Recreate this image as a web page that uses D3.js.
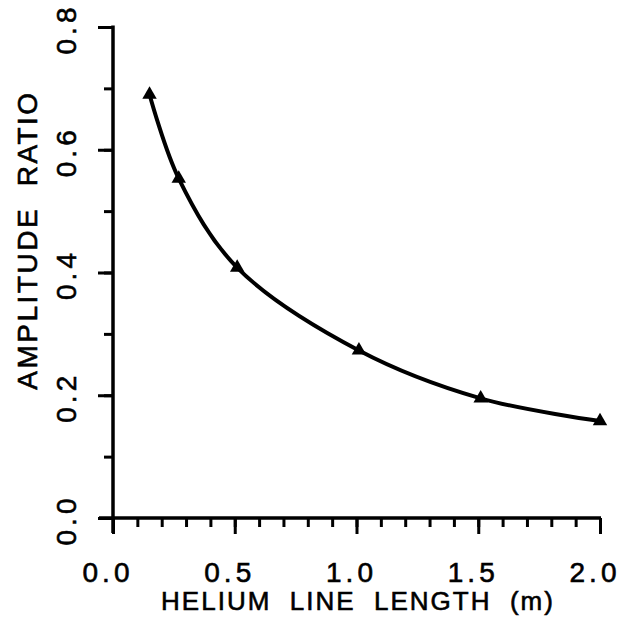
<!DOCTYPE html>
<html>
<head>
<meta charset="utf-8">
<script src="https://cdn.jsdelivr.net/npm/d3@7"></script>
<style>
  html, body { margin: 0; padding: 0; background: #fff; }
  svg { display: block; }
  text { font-family: "Liberation Sans", Arial, sans-serif; fill: #000; stroke: #000; stroke-width: 0.6; white-space: pre; }
</style>
</head>
<body>
<svg id="chart" width="619" height="632"></svg>
<script>
// Data
const lengths = [0.15, 0.27, 0.51, 1.01, 1.51, 2.0];
const ratios  = [0.69, 0.553, 0.408, 0.273, 0.195, 0.158];
const xTickLabels = ["0.0", "0.5", "1.0", "1.5", "2.0"];
const yTickLabels = ["0.0", "0.2", "0.4", "0.6", "0.8"];
const xTitle = "HELIUM  LINE  LENGTH  (m)";
const yTitle = "AMPLITUDE  RATIO";

const svg = d3.select("#chart");
const x = d3.scaleLinear().domain([0, 2]).range([113, 600]);
const y = d3.scaleLinear().domain([0, 0.8]).range([518, 27]);

const xMinor = d3.range(0, 21).map(i => i / 10);
const xMajor = xTickLabels.map(Number);
const yMinor = d3.range(0, 9).map(i => i / 10);
const yMajor = yTickLabels.map(Number);

const axisStyle = g => {
  g.select(".domain").remove();
  g.selectAll("line").attr("stroke", "#000").attr("stroke-width", 3);
  g.selectAll("text").remove();
};

// X axis minor & major ticks
svg.append("g").attr("transform", `translate(0,${y(0)})`)
  .call(d3.axisBottom(x).tickValues(xMinor).tickSize(9)).call(axisStyle);
svg.append("g").attr("transform", `translate(0,${y(0)})`)
  .call(d3.axisBottom(x).tickValues(xMajor).tickSize(16)).call(axisStyle);
// Y axis minor & major ticks
svg.append("g").attr("transform", `translate(${x(0)},0)`)
  .call(d3.axisLeft(y).tickValues(yMinor).tickSize(9)).call(axisStyle);
svg.append("g").attr("transform", `translate(${x(0)},0)`)
  .call(d3.axisLeft(y).tickValues(yMajor).tickSize(15)).call(axisStyle);

// axis lines
svg.append("line").attr("x1", x(0) - 14).attr("x2", x(2) + 1)
  .attr("y1", y(0)).attr("y2", y(0)).attr("stroke", "#000").attr("stroke-width", 3.5);
svg.append("line").attr("x1", x(0)).attr("x2", x(0))
  .attr("y1", y(0) + 15).attr("y2", y(0.8) - 1.5).attr("stroke", "#000").attr("stroke-width", 3.5);

// X tick labels
svg.append("g").selectAll("text").data(xTickLabels).join("text")
  .attr("x", d => x(+d) - 5)
  .attr("y", 582)
  .attr("text-anchor", "middle")
  .attr("font-size", 28)
  .attr("letter-spacing", 4)
  .text(d => d);

// Y tick labels (rotated)
svg.append("g").selectAll("text").data(yTickLabels).join("text")
  .attr("transform", d => `translate(76,${y(+d) + 2}) rotate(-90)`)
  .attr("text-anchor", "middle")
  .attr("font-size", 28)
  .attr("letter-spacing", 4)
  .text(d => d);

// Axis titles
svg.append("text")
  .attr("x", 358).attr("y", 610)
  .attr("text-anchor", "middle")
  .attr("font-size", 26)
  .attr("letter-spacing", 2)
  .text(xTitle);
svg.append("text")
  .attr("transform", `translate(37,240) rotate(-90)`)
  .attr("text-anchor", "middle")
  .attr("font-size", 28)
  .attr("letter-spacing", 2.5)
  .text(yTitle);

// Curve
const pts = lengths.map((l, i) => [l, ratios[i]]);
svg.append("path")
  .datum(pts)
  .attr("fill", "none")
  .attr("stroke", "#000")
  .attr("stroke-width", 4)
  .attr("d", d3.line().x(d => x(d[0])).y(d => y(d[1])).curve(d3.curveCatmullRom.alpha(0.5)));

// Triangle markers
svg.append("g").selectAll("path").data(pts).join("path")
  .attr("transform", d => `translate(${x(d[0])},${y(d[1])})`)
  .attr("d", d3.symbol().type(d3.symbolTriangle).size(90))
  .attr("fill", "#000");
</script>
</body>
</html>
